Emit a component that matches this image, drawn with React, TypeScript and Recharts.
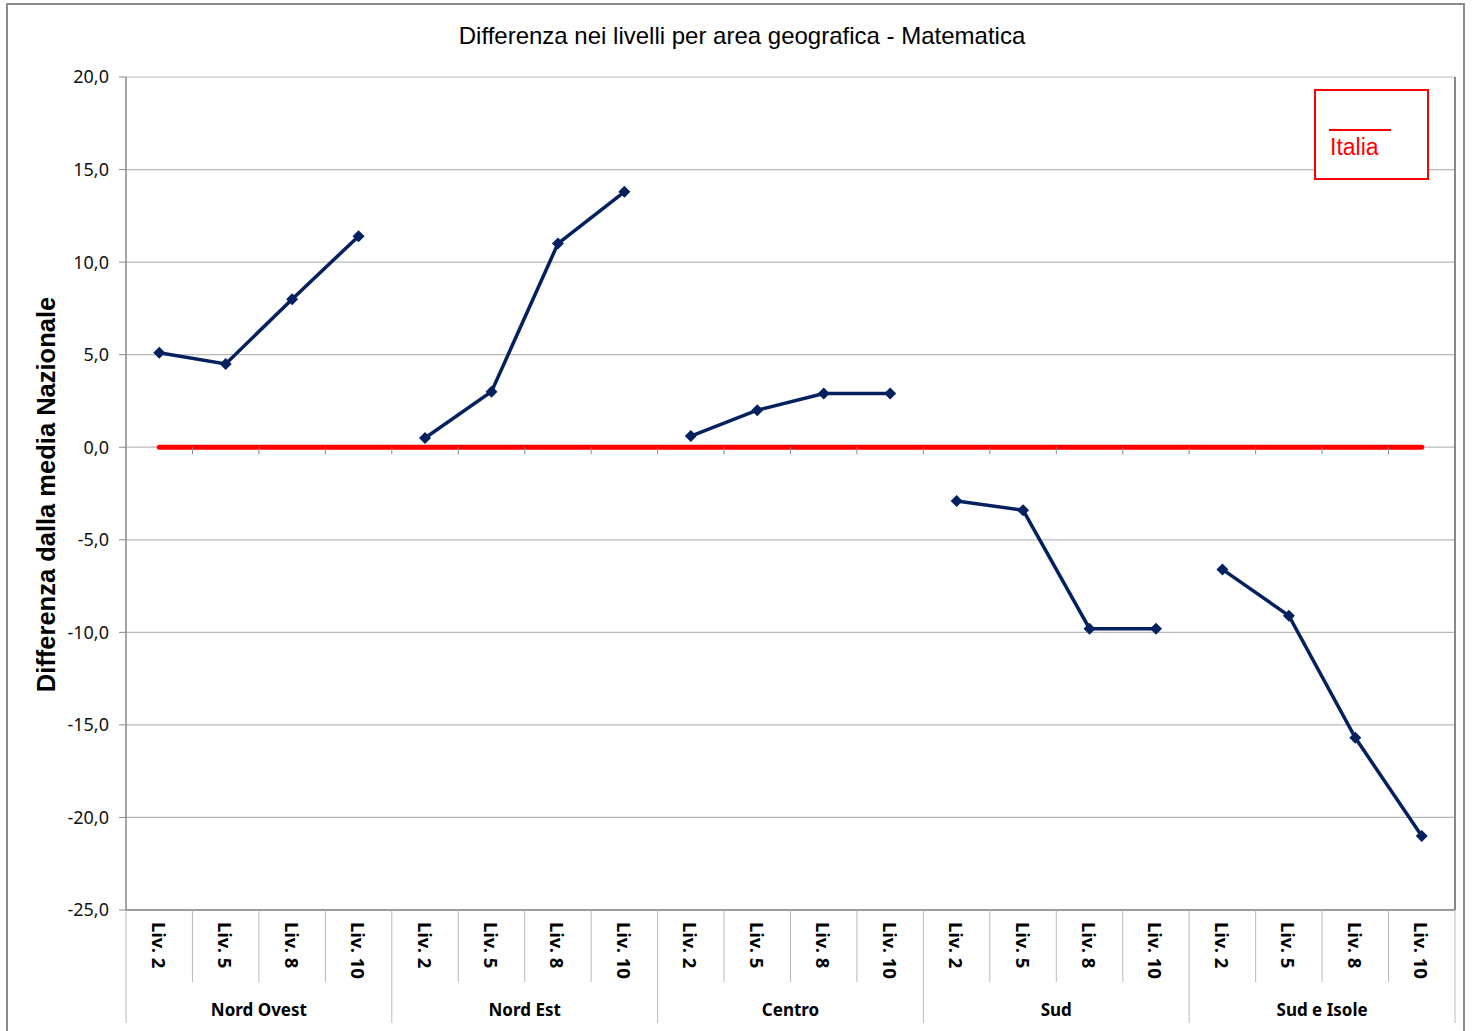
import { LineChart, Line, XAxis, YAxis, CartesianGrid, Legend } from 'recharts';

const levels = ['Liv. 2', 'Liv. 5', 'Liv. 8', 'Liv. 10'];
const areas = ['Nord Ovest', 'Nord Est', 'Centro', 'Sud', 'Sud e Isole'];

const nordOvest = [5.1, 4.5, 8.0, 11.4];
const nordEst = [0.5, 3.0, 11.0, 13.8];
const centro = [0.6, 2.0, 2.9, 2.9];
const sud = [-2.9, -3.4, -9.8, -9.8];
const sudIsole = [-6.6, -9.1, -15.7, -21.0];
const italia = 0;

const yTicks = [-25, -20, -15, -10, -5, 0, 5, 10, 15, 20];

const areaSeries = [nordOvest, nordEst, centro, sud, sudIsole];

const rows = areas.flatMap((area, a) =>
  levels.map((level, l) => {
    const row: Record<string, any> = { key: `${area}|${level}`, area, level, italia };
    areaSeries.forEach((vals, s) => {
      row[`s${s}`] = s === a ? vals[l] : null;
    });
    return row;
  })
);

const W = 1472;
const H = 1031;
const PLOT_LEFT = 126;
const PLOT_RIGHT = 1455;
const PLOT_TOP = 77;
const PLOT_BOTTOM = 910;
const Y_AXIS_W = 60;
const X_AXIS_H = 115;
const BAND = (PLOT_RIGHT - PLOT_LEFT) / rows.length;
const Y_MIN = -25;
const Y_MAX = 20;
const zeroY = PLOT_TOP + ((Y_MAX - 0) / (Y_MAX - Y_MIN)) * (PLOT_BOTTOM - PLOT_TOP);

const NAVY = '#03215e';
const GRID = '#b9b9b9';
const AXIS = '#888888';
const FONT = '"Noto Sans", sans-serif';
const ARIAL = '"Liberation Sans", Arial, sans-serif';

const fmt = (v: number) => v.toFixed(1).replace('.', ',');

function CategoryTick(props: any) {
  const { x, index } = props;
  const row = rows[index];
  if (!row) return null;
  const left = x - BAND / 2;
  const groupStart = index % levels.length === 0;
  const last = index === rows.length - 1;
  return (
    <g>
      <line x1={left} x2={left} y1={PLOT_BOTTOM} y2={groupStart ? 1023 : 982} stroke={GRID} />
      {last && <line x1={x + BAND / 2} x2={x + BAND / 2} y1={PLOT_BOTTOM} y2={1023} stroke={GRID} />}
      {index > 0 && <line x1={left} x2={left} y1={zeroY} y2={zeroY + 7} stroke={AXIS} />}
      <text
        transform={`translate(${x}, 922) rotate(90)`}
        textAnchor="start"
        dominantBaseline="central"
        fontFamily={FONT}
        fontWeight="bold"
        fontSize={18.5}
        fill="#000"
      >
        {row.level}
      </text>
      {index % levels.length === 1 && (
        <text
          x={x + BAND / 2}
          y={1016}
          textAnchor="middle"
          fontFamily={FONT}
          fontWeight="bold"
          fontSize={17}
          fill="#000"
        >
          {row.area}
        </text>
      )}
    </g>
  );
}

function YTitle() {
  const cx = 46;
  const cy = (PLOT_TOP + PLOT_BOTTOM) / 2 + 1;
  return (
    <text
      transform={`translate(${cx}, ${cy}) rotate(-90)`}
      textAnchor="middle"
      dominantBaseline="central"
      fontFamily={ARIAL}
      fontWeight="bold"
      fontSize={25.5}
      fill="#000"
    >
      Differenza dalla media Nazionale
    </text>
  );
}

function Diamond(props: any) {
  const { cx, cy } = props;
  if (cx == null || cy == null || props.value == null) return null;
  const r = 6;
  return <path d={`M${cx},${cy - r}L${cx + r},${cy}L${cx},${cy + r}L${cx - r},${cy}Z`} fill={NAVY} />;
}

function LegendBox() {
  return (
    <div
      style={{
        width: 111,
        height: 87,
        border: '2px solid #ff0000',
        position: 'relative',
        background: '#fff',
      }}
    >
      <div style={{ position: 'absolute', left: 13, top: 38, width: 62, height: 2, background: '#ff0000' }} />
      <div
        style={{
          position: 'absolute',
          left: 14,
          top: 43,
          color: '#ff0000',
          fontFamily: ARIAL,
          fontSize: 23,
          lineHeight: '26px',
        }}
      >
        Italia
      </div>
    </div>
  );
}

export default function App() {
  return (
    <div style={{ position: 'absolute', left: 0, top: 0, width: W, height: H, background: '#fff', overflow: 'hidden' }}>
      <div
        style={{
          position: 'absolute',
          left: 6,
          top: 3,
          width: 1459,
          height: 1060,
          border: '2px solid #8c8c8c',
          boxSizing: 'border-box',
        }}
      />
      <div
        style={{
          position: 'absolute',
          left: 0,
          top: 21,
          width: 1484,
          textAlign: 'center',
          fontFamily: ARIAL,
          fontSize: 24,
          lineHeight: '30px',
          color: '#000',
        }}
      >
        Differenza nei livelli per area geografica - Matematica
      </div>
      <div style={{ position: 'absolute', left: 0, top: 0 }}>
        <LineChart
          width={W}
          height={H}
          data={rows}
          margin={{ top: PLOT_TOP, right: W - PLOT_RIGHT - 1, bottom: H - PLOT_BOTTOM - X_AXIS_H, left: PLOT_LEFT - Y_AXIS_W }}
        >
          <CartesianGrid vertical={false} stroke={GRID} strokeWidth={1.2} />
          <XAxis
            dataKey="key"
            interval={0}
            height={X_AXIS_H}
            padding={{ left: BAND / 2, right: BAND / 2 }}
            tickLine={false}
            axisLine={{ stroke: AXIS, strokeWidth: 1.5 }}
            tick={<CategoryTick />}
          />
          <YAxis
            domain={[Y_MIN, Y_MAX]}
            ticks={yTicks}
            width={Y_AXIS_W}
            tickFormatter={fmt}
            tickSize={7}
            tickMargin={10}
            tickLine={{ stroke: AXIS }}
            axisLine={{ stroke: AXIS, strokeWidth: 1.5 }}
            tick={{ fontFamily: FONT, fontSize: 18, fill: '#111' }}
            allowDataOverflow
            label={<YTitle />}
          />
          <YAxis
            yAxisId="right"
            orientation="right"
            width={1}
            tick={false}
            tickLine={false}
            axisLine={{ stroke: AXIS, strokeWidth: 2 }}
          />
          <Line
            dataKey="italia"
            name="Italia"
            stroke="#ff0000"
            strokeWidth={5}
            strokeLinecap="round"
            dot={false}
            activeDot={false}
            isAnimationActive={false}
          />
          {areaSeries.map((_, s) => (
            <Line
              key={s}
              dataKey={`s${s}`}
              name={areas[s]}
              stroke={NAVY}
              strokeWidth={3.5}
              dot={<Diamond />}
              activeDot={false}
              connectNulls={false}
              legendType="none"
              isAnimationActive={false}
            />
          ))}
          <Legend
            layout="horizontal"
            verticalAlign="middle"
            content={() => <LegendBox />}
            wrapperStyle={{ position: 'absolute', left: 1314, top: 89, width: 115, height: 91 }}
          />
        </LineChart>
      </div>
    </div>
  );
}
